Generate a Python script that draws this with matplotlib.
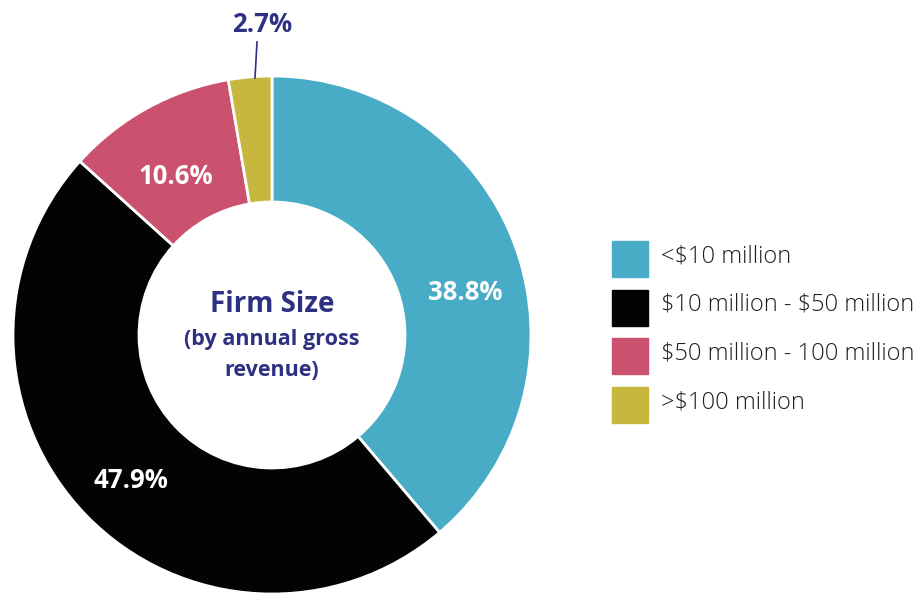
import matplotlib.pyplot as plt
from matplotlib.patches import Rectangle

categories = ['<$10 million', '$10 million - $50 million',
              '$50 million - 100 million', '>$100 million']
shares = [38.8, 47.9, 10.6, 2.7]
colors = ['#49acc6', '#030303', '#cb526e', '#c8b73e']
pct_labels = ['38.8%', '47.9%', '10.6%', '2.7%']

navy = '#2e3181'
plt.rcParams['font.family'] = ['Open Sans', 'DejaVu Sans']
plt.rcParams['text.parse_math'] = False

fig = plt.figure(figsize=(9.21, 5.94), dpi=100)
ax = fig.add_axes([0, 0, 1, 1])

cx, cy = 272, 594 - 335
ax.pie(shares, colors=colors, startangle=90, counterclock=False,
       center=(cx, cy), radius=259, frame=True,
       wedgeprops=dict(width=126, edgecolor='white', linewidth=2))
ax.set_xlim(0, 921)
ax.set_ylim(0, 594)
ax.set_aspect('equal')
ax.axis('off')

# percentage labels
label_pos = [(465, 293), (131, 480), (176, 176), (262, 24)]
for i, (txt, (x, y)) in enumerate(zip(pct_labels, label_pos)):
    c = 'white' if i < 3 else navy
    ax.text(x, 594 - y, txt, color=c, fontsize=18.5, fontweight='bold',
            ha='center', va='center')
ax.plot([257, 255], [594 - 42, 594 - 78], color=navy, lw=1.2)

# center title
ax.text(cx, 594 - 304, 'Firm Size', color=navy, fontsize=20,
        fontweight='bold', ha='center', va='center')
ax.text(cx, 594 - 339, '(by annual gross', color=navy, fontsize=15.5,
        fontweight='bold', ha='center', va='center')
ax.text(cx, 594 - 370, 'revenue)', color=navy, fontsize=15.5,
        fontweight='bold', ha='center', va='center')

# legend
for i, (cat, col) in enumerate(zip(categories, colors)):
    yc = 594 - (259 + i * 48.7)
    ax.add_patch(Rectangle((612, yc - 18), 36, 36, color=col))
    ax.text(661, yc + 3, cat, fontsize=17, fontweight='light', color='#231f20',
            ha='left', va='center')

fig.savefig('out.png', dpi=100)
